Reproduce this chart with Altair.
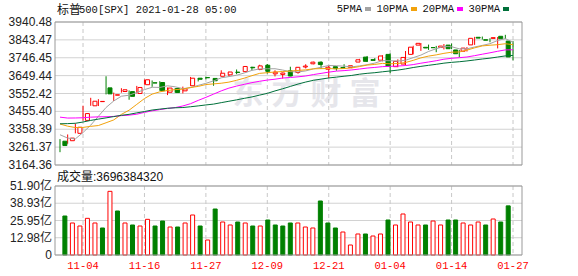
import altair as alt
import pandas as pd

# ---------------- data ----------------
dates = ["10-30", "11-02", "11-03", "11-04", "11-05", "11-06", "11-09", "11-10", "11-11", "11-12",
         "11-13", "11-16", "11-17", "11-18", "11-19", "11-20", "11-23", "11-24", "11-25", "11-27",
         "11-30", "12-01", "12-02", "12-03", "12-04", "12-07", "12-08", "12-09", "12-10", "12-11",
         "12-14", "12-15", "12-16", "12-17", "12-18", "12-21", "12-22", "12-23", "12-24", "12-28",
         "12-29", "12-30", "12-31", "01-04", "01-05", "01-06", "01-07", "01-08", "01-11", "01-12",
         "01-13", "01-14", "01-15", "01-19", "01-20", "01-21", "01-22", "01-25", "01-26", "01-27"]
opens = [3293.59, 3296.20, 3336.25, 3406.46, 3485.74, 3508.34, 3583.04, 3543.26, 3563.22, 3562.67,
         3552.57, 3600.16, 3610.31, 3612.09, 3559.41, 3579.31, 3566.82, 3594.52, 3635.50, 3638.55,
         3634.18, 3645.87, 3653.78, 3668.28, 3670.94, 3694.73, 3683.05, 3705.98, 3659.13, 3656.08,
         3675.27, 3666.41, 3696.25, 3713.65, 3722.39, 3684.28, 3698.08, 3693.42, 3694.03, 3723.03,
         3750.01, 3736.19, 3733.27, 3764.61, 3698.02, 3712.20, 3764.71, 3815.05, 3803.14, 3801.62,
         3802.23, 3814.98, 3788.73, 3781.88, 3816.22, 3857.46, 3844.24, 3851.68, 3862.96, 3836.83]
highs = [3304.93, 3330.14, 3389.49, 3486.25, 3529.05, 3521.58, 3645.99, 3557.22, 3581.16, 3569.02,
         3593.66, 3628.51, 3623.11, 3619.09, 3585.22, 3581.23, 3589.81, 3642.31, 3635.50, 3644.31,
         3634.18, 3678.45, 3670.96, 3682.73, 3699.20, 3697.41, 3708.45, 3712.39, 3678.49, 3665.91,
         3697.61, 3695.29, 3711.27, 3725.12, 3726.70, 3702.90, 3698.26, 3711.24, 3703.82, 3740.51,
         3756.12, 3744.63, 3760.20, 3769.99, 3737.83, 3783.04, 3811.55, 3826.69, 3817.86, 3810.78,
         3820.96, 3823.60, 3788.73, 3804.53, 3859.75, 3861.45, 3852.31, 3859.23, 3870.90, 3836.83]
lows = [3233.94, 3279.74, 3336.25, 3405.17, 3485.74, 3484.34, 3547.48, 3511.91, 3557.00, 3518.58,
        3552.57, 3600.16, 3588.68, 3567.33, 3543.84, 3556.85, 3552.77, 3594.52, 3617.76, 3629.33,
        3594.39, 3645.87, 3644.84, 3657.17, 3670.94, 3678.88, 3678.83, 3660.54, 3645.18, 3633.40,
        3645.84, 3659.62, 3688.57, 3710.87, 3685.84, 3636.48, 3676.16, 3689.28, 3689.32, 3723.03,
        3723.31, 3730.21, 3726.88, 3662.71, 3695.07, 3705.34, 3764.71, 3783.60, 3789.02, 3776.51,
        3791.50, 3792.86, 3749.62, 3780.37, 3816.22, 3845.05, 3830.41, 3797.16, 3847.78, 3732.48]
closes = [3269.96, 3310.24, 3369.16, 3443.44, 3510.45, 3509.44, 3550.50, 3545.53, 3572.66, 3537.01,
          3585.15, 3626.91, 3609.53, 3567.79, 3581.87, 3557.54, 3577.59, 3635.41, 3629.65, 3638.35,
          3621.63, 3662.45, 3669.01, 3666.72, 3699.12, 3691.96, 3702.25, 3672.82, 3668.10, 3663.46,
          3647.49, 3694.62, 3701.17, 3722.48, 3709.41, 3694.92, 3687.26, 3690.01, 3703.06, 3735.36,
          3727.04, 3732.04, 3756.07, 3700.65, 3726.86, 3748.14, 3803.79, 3824.68, 3799.61, 3801.19,
          3809.84, 3795.54, 3768.25, 3798.91, 3851.85, 3853.07, 3841.47, 3855.36, 3849.62, 3750.77]
# closes of the 29 sessions before the first candle (feed the moving averages)
prior_closes = [3281.06, 3315.57, 3236.92, 3246.59, 3298.46, 3351.60, 3335.47, 3363.00, 3380.80,
                3348.42, 3408.60, 3360.97, 3419.44, 3446.83, 3477.14, 3534.22, 3511.93, 3488.67,
                3483.34, 3483.81, 3426.92, 3443.12, 3435.56, 3453.49, 3465.39, 3400.97, 3390.68,
                3271.03, 3310.11]
# volume in 亿 (1e8)
volumes = [29.33, 24.07, 21.81, 27.58, 24.07, 20.31, 47.89, 33.10, 24.07, 22.57,
           21.81, 26.83, 21.81, 25.57, 21.06, 21.06, 24.07, 30.09, 21.81, 11.28,
           34.60, 24.82, 22.57, 24.82, 24.07, 21.81, 21.81, 26.33, 22.57, 21.81,
           24.07, 24.07, 21.06, 20.31, 40.62, 24.07, 20.31, 17.30, 7.52, 15.80,
           15.80, 14.29, 15.80, 26.33, 22.57, 30.84, 24.82, 22.57, 22.57, 25.57,
           22.57, 26.33, 26.33, 24.07, 22.57, 24.82, 22.57, 27.08, 24.82, 36.96]

ma_windows = [5, 10, 20, 30]
ma_names = ["5PMA", "10PMA", "20PMA", "30PMA"]
ma_colors = ["#a3a3a3", "#f2a20c", "#ff00ff", "#00703a"]

price_ticks = [3164.36, 3261.37, 3358.39, 3455.40, 3552.42, 3649.44, 3746.45, 3843.47, 3940.48]
vol_ticks = [0, 12.98, 25.95, 38.93, 51.90]
vol_tick_labels = ["0", "12.98亿", "25.95亿", "38.93亿", "51.90亿"]
x_label_dates = ["11-04", "11-16", "11-27", "12-09", "12-21", "01-04", "01-14", "01-27"]

title_cn = "标普"
title_rest = "500[SPX] 2021-01-28 05:00"
vol_title = "成交量:3696384320"
watermark_chars = ["东", "方", "财", "富"]

# ---------------- tables ----------------
n = len(dates)
df = pd.DataFrame({"idx": range(n), "date": dates, "open": opens, "high": highs,
                   "low": lows, "close": closes, "vol": volumes})
df["dir"] = ["up" if c >= o else "down" for o, c in zip(opens, closes)]
prev = [prior_closes[-1]] + closes[:-1]
df["vdir"] = ["up" if c >= p else "down" for c, p in zip(closes, prev)]
df["zero"] = 0.0

all_closes = pd.Series(prior_closes + closes)
ma_rows = []
for w, name in zip(ma_windows, ma_names):
    ma = all_closes.rolling(w).mean().iloc[-n:].tolist()
    for i, v in enumerate(ma):
        ma_rows.append({"idx": i, "name": name, "value": v})
df_ma = pd.DataFrame(ma_rows)

label_idx = [dates.index(d) for d in x_label_dates]
df_xl = pd.DataFrame({"i": label_idx, "label": x_label_dates})
df_pt = pd.DataFrame({"p": price_ticks, "label": [f"{p:.2f}" for p in price_ticks]})
df_vt = pd.DataFrame({"v": vol_ticks, "label": vol_tick_labels})
df_leg = pd.DataFrame({"name": ma_names, "i": range(len(ma_names))})
df_wm = pd.DataFrame({"ch": watermark_chars, "i": range(len(watermark_chars))})
one = pd.DataFrame({"a": [0]})

# ---------------- layout ----------------
W, H = 467, 233
MAIN_BOTTOM = 143
VOL_TOP, VOL_BOTTOM = 164, 233
XD = [-0.65, 60.17]
PD = [3164.36, 3940.48]
VD = [0, 51.90]
MONO = "Liberation Mono"
SANS = "Liberation Sans, Noto Sans CJK SC"
RED, GREEN = "#ff0000", "#008000"


def X(field="idx"):
    return alt.X(f"{field}:Q", scale=alt.Scale(domain=XD, range=[0, W], nice=False, zero=False), axis=None)


def YP(field):
    return alt.Y(f"{field}:Q", scale=alt.Scale(domain=PD, range=[MAIN_BOTTOM, 0], nice=False, zero=False), axis=None)


def YV(field):
    return alt.Y(f"{field}:Q", scale=alt.Scale(domain=VD, range=[VOL_BOTTOM, VOL_TOP], nice=False, zero=False), axis=None)


dir_stroke = alt.Scale(domain=["up", "down"], range=[RED, GREEN])
dir_fill = alt.Scale(domain=["up", "down"], range=["#ffffff", GREEN])

# watermark
watermark = alt.Chart(df_wm).mark_text(
    font="Noto Sans CJK SC", fontWeight="bold", fontSize=31, color="#e6e6eb", baseline="middle", align="center"
).transform_calculate(px="193 + 39*datum.i").encode(
    x=alt.X("px:Q", scale=None), y=alt.value(73), text="ch:N")

# grids
grid_main = alt.Chart(df_pt).mark_rule(color="#d2d2d2", strokeWidth=1).encode(
    y=YP("p"), x=alt.value(0), x2=alt.value(W))
grid_vol = alt.Chart(df_vt).mark_rule(color="#d2d2d2", strokeWidth=1).encode(
    y=YV("v"), x=alt.value(0), x2=alt.value(W))
vgrid_main = alt.Chart(df_xl).mark_rule(color="#c8c8c8", strokeDash=[4, 3], strokeWidth=1).encode(
    x=X("i"), y=alt.value(0), y2=alt.value(MAIN_BOTTOM))
vgrid_vol = alt.Chart(df_xl).mark_rule(color="#c8c8c8", strokeDash=[4, 3], strokeWidth=1).encode(
    x=X("i"), y=alt.value(VOL_TOP), y2=alt.value(VOL_BOTTOM))

# frames
frame_main = alt.Chart(one).mark_rect(fillOpacity=0, stroke="#999999", strokeWidth=1).encode(
    x=alt.value(0), x2=alt.value(W), y=alt.value(0), y2=alt.value(MAIN_BOTTOM))
frame_vol = alt.Chart(one).mark_rect(fillOpacity=0, stroke="#999999", strokeWidth=1).encode(
    x=alt.value(0), x2=alt.value(W), y=alt.value(VOL_TOP), y2=alt.value(VOL_BOTTOM))

# candles
wicks = alt.Chart(df).mark_rule(strokeWidth=1).encode(
    x=X(), y=YP("low"), y2=alt.Y2("high"),
    color=alt.Color("dir:N", scale=dir_stroke, legend=None))
bodies = alt.Chart(df).mark_bar(size=4, strokeWidth=1).encode(
    x=X(), y=YP("open"), y2=alt.Y2("close"),
    fill=alt.Fill("dir:N", scale=dir_fill, legend=None),
    stroke=alt.Stroke("dir:N", scale=dir_stroke, legend=None))

# moving averages
ma_lines = alt.Chart(df_ma).mark_line(strokeWidth=1).encode(
    x=X(), y=YP("value"),
    color=alt.Color("name:N", scale=alt.Scale(domain=ma_names, range=ma_colors), legend=None),
    detail="name:N")

# volume
vol_bars = alt.Chart(df).mark_bar(size=4, strokeWidth=1).encode(
    x=X(), y=YV("vol"), y2=alt.Y2("zero"),
    fill=alt.Fill("vdir:N", scale=dir_fill, legend=None),
    stroke=alt.Stroke("vdir:N", scale=dir_stroke, legend=None))

# axis labels
ylab_main = alt.Chart(df_pt).mark_text(align="right", baseline="middle", font=SANS, fontSize=12,
                                        color="#222222").encode(x=alt.value(-3), y=YP("p"), text="label:N")
ylab_vol = alt.Chart(df_vt).mark_text(align="right", baseline="middle", font=SANS, fontSize=12,
                                       color="#222222").encode(x=alt.value(-3), y=YV("v"), text="label:N")
xlab = alt.Chart(df_xl).mark_text(align="center", baseline="middle", font=MONO, fontSize=10.5,
                                  color=RED).encode(x=X("i"), y=alt.value(244), text="label:N")

# titles
t1 = alt.Chart(one).mark_text(text=title_cn, align="left", baseline="middle", font="Noto Sans CJK SC",
                              fontSize=12, color="#111111").encode(x=alt.value(2), y=alt.value(-12.5))
t2 = alt.Chart(one).mark_text(text=title_rest, align="left", baseline="middle", font=MONO,
                              fontSize=10.5, color="#111111").encode(x=alt.value(24), y=alt.value(-12.5))
t3 = alt.Chart(one).mark_text(text=vol_title, align="left", baseline="middle", font=SANS,
                              fontSize=12, color="#111111").encode(x=alt.value(2), y=alt.value(154.5))

# legend
leg_text = alt.Chart(df_leg).mark_text(align="right", baseline="middle", font=MONO, fontSize=10.5,
                                       color="#111111").transform_calculate(
    tx="307 + 46*datum.i").encode(x=alt.X("tx:Q", scale=None), y=alt.value(-13), text="name:N")
leg_sw = alt.Chart(df_leg).mark_rect().transform_calculate(
    sx="310 + 46*datum.i", sx2="316 + 46*datum.i").encode(
    x=alt.X("sx:Q", scale=None), x2="sx2:Q", y=alt.value(-15), y2=alt.value(-11),
    color=alt.Color("name:N", scale=alt.Scale(domain=ma_names, range=ma_colors), legend=None))

chart = alt.layer(
    watermark, grid_main, grid_vol, vgrid_main, vgrid_vol,
    wicks, bodies, ma_lines, vol_bars, frame_main, frame_vol,
    ylab_main, ylab_vol, xlab, t1, t2, t3, leg_text, leg_sw
).resolve_scale(
    x="independent", y="independent", color="independent", fill="independent", stroke="independent"
).properties(
    width=W, height=H,
    padding={"left": 55, "top": 22, "right": 56, "bottom": 21},
    autosize=alt.AutoSizeParams(type="none"),
    background="white",
).configure_view(stroke=None)

chart.save("out.html", embed_options={"renderer": "svg", "actions": False})
